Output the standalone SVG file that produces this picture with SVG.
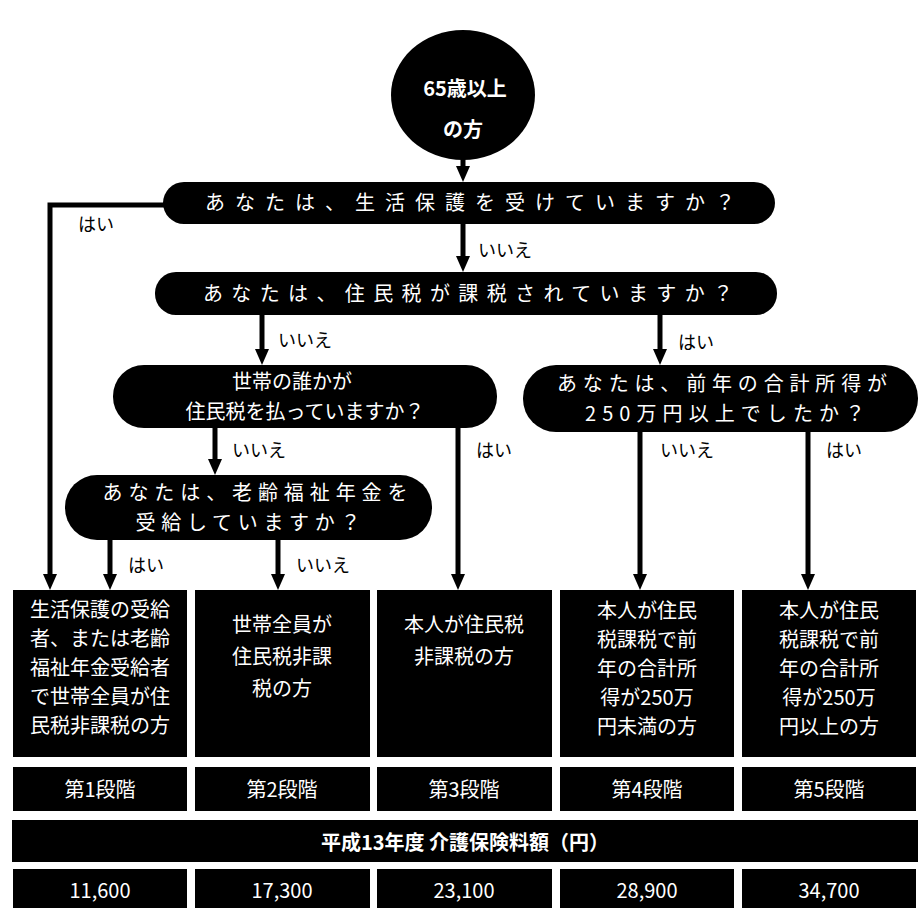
<svg xmlns="http://www.w3.org/2000/svg" width="921" height="910" viewBox="0 0 921 910">
<style>
.bg{fill:#fff}
.blk{fill:#000}
.wt{fill:#fff;font-family:"Noto Sans CJK JP","Noto Sans",sans-serif;font-size:20px;text-anchor:middle}
.bd{font-weight:bold}
.lbl{fill:#000;font-family:"Noto Sans CJK JP","Noto Sans",sans-serif;font-size:18px}
.ln{stroke:#000;stroke-width:5;fill:none}
</style>
<rect class="bg" x="0" y="0" width="921" height="910"/>

<g id="connectors">
<line class="ln" x1="463" y1="158" x2="463" y2="168"/>
<path d="M456,166 L470,166 L463,182 Z" class="blk"/>
<polyline class="ln" points="165,205 50,205 50,575" stroke-width="4"/>
<path d="M43,574 L57,574 L50,590 Z" class="blk"/>
<line class="ln" x1="463" y1="224" x2="463" y2="258"/>
<path d="M456,256 L470,256 L463,272 Z" class="blk"/>
<line class="ln" x1="262" y1="315" x2="262" y2="351"/>
<path d="M255,349 L269,349 L262,365 Z" class="blk"/>
<line class="ln" x1="660" y1="315" x2="660" y2="351"/>
<path d="M653,349 L667,349 L660,365 Z" class="blk"/>
<line class="ln" x1="215" y1="428" x2="215" y2="461"/>
<path d="M208,459 L222,459 L215,475 Z" class="blk"/>
<line class="ln" x1="458" y1="428" x2="458" y2="576"/>
<path d="M451,574 L465,574 L458,590 Z" class="blk"/>
<line class="ln" x1="640" y1="432" x2="640" y2="576"/>
<path d="M633,574 L647,574 L640,590 Z" class="blk"/>
<line class="ln" x1="808" y1="432" x2="808" y2="576"/>
<path d="M801,574 L815,574 L808,590 Z" class="blk"/>
<line class="ln" x1="110" y1="540" x2="110" y2="576"/>
<path d="M103,574 L117,574 L110,590 Z" class="blk"/>
<line class="ln" x1="278" y1="540" x2="278" y2="576"/>
<path d="M271,574 L285,574 L278,590 Z" class="blk"/>
<text class="lbl" x="78" y="231">はい</text>
<text class="lbl" x="478" y="257">いいえ</text>
<text class="lbl" x="278" y="347">いいえ</text>
<text class="lbl" x="678" y="349">はい</text>
<text class="lbl" x="232" y="457">いいえ</text>
<text class="lbl" x="476" y="457">はい</text>
<text class="lbl" x="660" y="457">いいえ</text>
<text class="lbl" x="826" y="457">はい</text>
<text class="lbl" x="128" y="572">はい</text>
<text class="lbl" x="296" y="572">いいえ</text>
</g>

<g id="start">
<ellipse class="blk" cx="463" cy="95" rx="72" ry="65"/>
<text class="wt bd" x="465" y="96" font-size="29">65歳以上</text>
<text class="wt bd" x="463" y="137" font-size="29">の方</text>
</g>

<g id="q1">
<rect class="blk" x="163" y="182" width="612" height="42" rx="21"/>
<text class="wt" x="470" y="210" font-size="22" textLength="530" lengthAdjust="spacing">あなたは、生活保護を受けていますか？</text>
</g>

<g id="q2">
<rect class="blk" x="155" y="272" width="622" height="43" rx="21"/>
<text class="wt" x="468" y="301" font-size="22" textLength="530" lengthAdjust="spacing">あなたは、住民税が課税されていますか？</text>
</g>

<g id="q3">
<rect class="blk" x="113" y="365" width="384" height="63" rx="31"/>
<text class="wt" x="292" y="389">世帯の誰かが</text>
<text class="wt" x="305" y="419">住民税を払っていますか？</text>
</g>

<g id="q5">
<rect class="blk" x="523" y="365" width="395" height="67" rx="33"/>
<text class="wt" x="722" y="391" textLength="330" lengthAdjust="spacing">あなたは、前年の合計所得が</text>
<text class="wt" x="725" y="421" textLength="280" lengthAdjust="spacing">250万円以上でしたか？</text>
</g>

<g id="q4">
<rect class="blk" x="65" y="475" width="367" height="65" rx="32"/>
<text class="wt" x="255" y="500" textLength="305" lengthAdjust="spacing">あなたは、老齢福祉年金を</text>
<text class="wt" x="248" y="530" textLength="225" lengthAdjust="spacing">受給していますか？</text>
</g>

<g id="box1">
<rect class="blk" x="13" y="590" width="174" height="167"/>
<text class="wt" x="100" y="617" font-size="19">生活保護の受給</text>
<text class="wt" x="100" y="646" font-size="19">者、または老齢</text>
<text class="wt" x="100" y="675" font-size="19">福祉年金受給者</text>
<text class="wt" x="100" y="704" font-size="19">で世帯全員が住</text>
<text class="wt" x="100" y="733" font-size="19">民税非課税の方</text>
</g>

<g id="box2">
<rect class="blk" x="195" y="590" width="175" height="167"/>
<text class="wt" x="282" y="632">世帯全員が</text>
<text class="wt" x="282" y="664">住民税非課</text>
<text class="wt" x="282" y="696">税の方</text>
</g>

<g id="box3">
<rect class="blk" x="377" y="590" width="175" height="167"/>
<text class="wt" x="464" y="632">本人が住民税</text>
<text class="wt" x="464" y="664">非課税の方</text>
</g>

<g id="box4">
<rect class="blk" x="560" y="590" width="174" height="167"/>
<text class="wt" x="647" y="618">本人が住民</text>
<text class="wt" x="647" y="647">税課税で前</text>
<text class="wt" x="647" y="676">年の合計所</text>
<text class="wt" x="647" y="705">得が250万</text>
<text class="wt" x="647" y="734">円未満の方</text>
</g>

<g id="box5">
<rect class="blk" x="742" y="590" width="174" height="167"/>
<text class="wt" x="829" y="618">本人が住民</text>
<text class="wt" x="829" y="647">税課税で前</text>
<text class="wt" x="829" y="676">年の合計所</text>
<text class="wt" x="829" y="705">得が250万</text>
<text class="wt" x="829" y="734">円以上の方</text>
</g>

<g id="stages">
<rect class="blk" x="13" y="767" width="174" height="44"/>
<rect class="blk" x="195" y="767" width="175" height="44"/>
<rect class="blk" x="377" y="767" width="175" height="44"/>
<rect class="blk" x="560" y="767" width="174" height="44"/>
<rect class="blk" x="742" y="767" width="174" height="44"/>
<text class="wt" x="100" y="797" font-size="23">第1段階</text>
<text class="wt" x="282" y="797" font-size="23">第2段階</text>
<text class="wt" x="464" y="797" font-size="23">第3段階</text>
<text class="wt" x="647" y="797" font-size="23">第4段階</text>
<text class="wt" x="829" y="797" font-size="23">第5段階</text>
</g>

<g id="banner">
<rect class="blk" x="12" y="820" width="906" height="42"/>
<text class="wt bd" x="465" y="850" font-size="25">平成13年度 介護保険料額（円）</text>
</g>

<g id="amounts">
<rect class="blk" x="13" y="869" width="174" height="39"/>
<rect class="blk" x="195" y="869" width="175" height="39"/>
<rect class="blk" x="377" y="869" width="175" height="39"/>
<rect class="blk" x="560" y="869" width="174" height="39"/>
<rect class="blk" x="742" y="869" width="174" height="39"/>
<text class="wt" x="100" y="898" font-size="26">11,600</text>
<text class="wt" x="282" y="898" font-size="26">17,300</text>
<text class="wt" x="464" y="898" font-size="26">23,100</text>
<text class="wt" x="647" y="898" font-size="26">28,900</text>
<text class="wt" x="829" y="898" font-size="26">34,700</text>
</g>
</svg>
